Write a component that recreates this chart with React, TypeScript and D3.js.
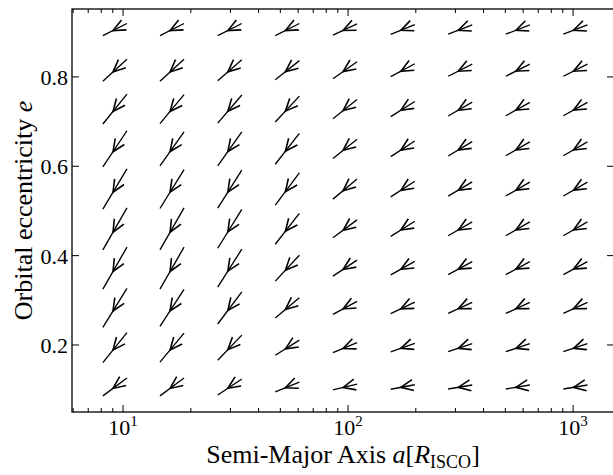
import React from 'react';
import * as d3 from 'd3';

// arrow centres
const semiMajor = [9.2, 16.5, 29.8, 53.7, 96.9, 175, 315, 568, 1024];
const eccentricity = [0.106, 0.194, 0.283, 0.372, 0.46, 0.549, 0.639, 0.728, 0.815, 0.906];

// every arrow spans the same step in log10(a); de per column, rows bottom -> top
const stepLogA = 0.107;
const stepE = [
  [0.040, 0.067, 0.087, 0.094, 0.094, 0.090, 0.081, 0.067, 0.049, 0.027],
  [0.040, 0.065, 0.083, 0.094, 0.094, 0.087, 0.076, 0.065, 0.049, 0.027],
  [0.036, 0.056, 0.072, 0.085, 0.087, 0.085, 0.076, 0.063, 0.047, 0.027],
  [0.022, 0.034, 0.045, 0.058, 0.069, 0.072, 0.069, 0.058, 0.043, 0.027],
  [0.013, 0.022, 0.029, 0.036, 0.040, 0.045, 0.043, 0.043, 0.038, 0.025],
  [0.010, 0.019, 0.026, 0.030, 0.034, 0.035, 0.035, 0.034, 0.029, 0.022],
  [0.009, 0.018, 0.025, 0.029, 0.031, 0.032, 0.032, 0.031, 0.027, 0.021],
  [0.009, 0.018, 0.025, 0.029, 0.031, 0.031, 0.031, 0.030, 0.027, 0.021],
  [0.009, 0.018, 0.025, 0.029, 0.031, 0.031, 0.031, 0.030, 0.027, 0.021],
];

const yTickValues = [0.2, 0.4, 0.6, 0.8];
const xTickExponents = [1, 2, 3];

const width = 613;
const height = 475;
const margin = { top: 9, right: -1, bottom: 63, left: 72 };
const font = "'Liberation Serif', 'DejaVu Serif', serif";

export default function App() {
  const x = d3
    .scaleLog()
    .domain([5.93, 1520])
    .range([margin.left, width - margin.right]);
  const y = d3
    .scaleLinear()
    .domain([0.05, 0.952])
    .range([height - margin.bottom, margin.top]);

  const x0 = margin.left;
  const x1 = width - margin.right;
  const y0 = height - margin.bottom;
  const y1 = margin.top;

  const allXTicks = x.ticks(20).filter(t => t > 5.93 && t < 1520);
  const isMajor = (t: number) => Math.abs(Math.log10(t) - Math.round(Math.log10(t))) < 1e-9;

  // arrows: shaft from tail (upper right) to tip (lower left), open head near the middle
  const shafts: string[] = [];
  const heads: string[] = [];
  semiMajor.forEach((a, i) => {
    eccentricity.forEach((e, j) => {
      const de = stepE[i][j];
      const half = Math.pow(10, stepLogA / 2);
      const tx = x(a * half);
      const ty = y(e + de / 2);
      const px = x(a / half);
      const py = y(e - de / 2);
      const vx = px + 0.42 * (tx - px);
      const vy = py + 0.42 * (ty - py);
      const len = Math.hypot(tx - px, ty - py);
      const ux = (tx - px) / len;
      const uy = (ty - py) / len;
      const ang = (24 * Math.PI) / 180;
      const wl = 13.5;
      const rot = (s: number) => [
        vx + wl * (ux * Math.cos(s * ang) - uy * Math.sin(s * ang)),
        vy + wl * (ux * Math.sin(s * ang) + uy * Math.cos(s * ang)),
      ];
      const w1 = rot(1);
      const w2 = rot(-1);
      shafts.push(`M${tx},${ty}L${px},${py}`);
      heads.push(`M${w1[0]},${w1[1]}L${vx},${vy}L${w2[0]},${w2[1]}`);
    });
  });

  return (
    <svg
      width={width}
      height={height}
      style={{ position: 'absolute', left: 0, top: 0, display: 'block', background: '#fff' }}
      fontFamily={font}
    >
      <g fill="none" stroke="#000" strokeLinejoin="miter">
        {shafts.map((d, k) => (
          <path key={'s' + k} d={d} strokeWidth={1.35} />
        ))}
        {heads.map((d, k) => (
          <path key={'h' + k} d={d} strokeWidth={1.6} />
        ))}
      </g>

      {/* ticks on all four sides, pointing inward */}
      <g stroke="#000" strokeWidth={1}>
        {allXTicks.map(t => {
          const len = isMajor(t) ? 7 : 4;
          return (
            <g key={t}>
              <line x1={x(t)} x2={x(t)} y1={y0} y2={y0 - len} />
              <line x1={x(t)} x2={x(t)} y1={y1} y2={y1 + len} />
            </g>
          );
        })}
        {yTickValues.map(t => (
          <g key={t}>
            <line x1={x0} x2={x0 + 7} y1={y(t)} y2={y(t)} />
            <line x1={x1} x2={x1 - 7} y1={y(t)} y2={y(t)} />
          </g>
        ))}
      </g>

      {/* frame */}
      <rect x={x0} y={y1} width={x1 - x0} height={y0 - y1} fill="none" stroke="#000" strokeWidth={1.3} />

      {/* tick labels */}
      <g fill="#000" fontSize={22}>
        {yTickValues.map(t => (
          <text key={t} x={x0 - 4} y={y(t) + 8} textAnchor="end">
            {t.toFixed(1)}
          </text>
        ))}
        {xTickExponents.map(p => (
          <text key={p} x={x(Math.pow(10, p))} y={y0 + 23} textAnchor="middle">
            10
            <tspan fontSize={15} dy={-9}>
              {p}
            </tspan>
          </text>
        ))}
      </g>

      {/* axis titles */}
      <text x={(x0 + x1) / 2} y={463} textAnchor="middle" fontSize={26} fill="#000">
        Semi-Major Axis <tspan fontStyle="italic">a</tspan>[
        <tspan fontStyle="italic">R</tspan>
        <tspan fontSize={18} dy={5}>ISCO</tspan>
        <tspan dy={-5}>]</tspan>
      </text>
      <text
        transform={`translate(32,${(y0 + y1) / 2}) rotate(-90)`}
        textAnchor="middle"
        fontSize={26}
        fill="#000"
      >
        Orbital eccentricity <tspan fontStyle="italic">e</tspan>
      </text>
    </svg>
  );
}
